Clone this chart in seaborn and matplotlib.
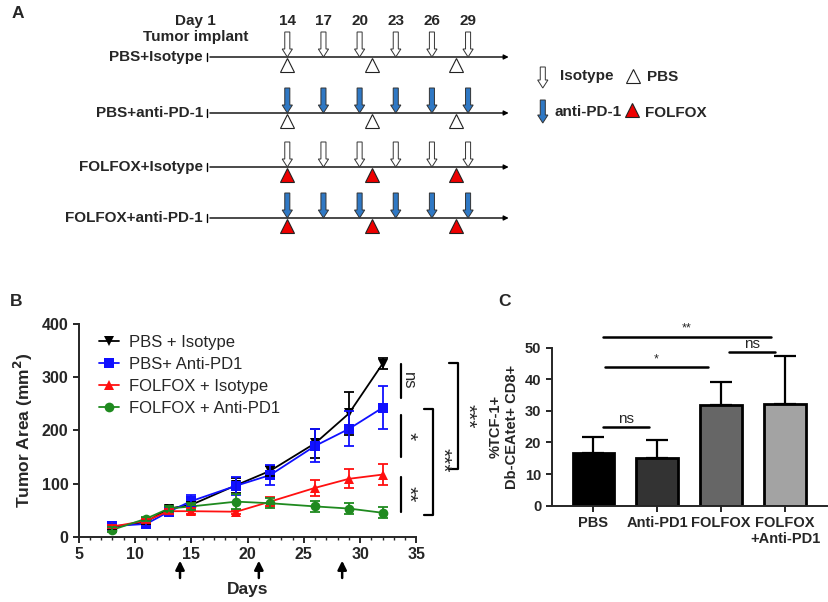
import numpy as np
import pandas as pd
import matplotlib
matplotlib.use("Agg")
import matplotlib.pyplot as plt
import seaborn as sns
from matplotlib.ticker import MultipleLocator

# ---------------------------
# Data
# ---------------------------
# panel A - treatment schedule
schedule_groups = ["PBS+Isotype", "PBS+anti-PD-1", "FOLFOX+Isotype", "FOLFOX+anti-PD-1"]
antibody_days = [14, 17, 20, 23, 26, 29]
chemo_days = [14, 21, 28]
group_antibody = ["Isotype", "anti-PD-1", "Isotype", "anti-PD-1"]
group_chemo = ["PBS", "PBS", "FOLFOX", "FOLFOX"]

# panel B - tumor growth (mean +/- sem)
days = [8, 11, 13, 15, 19, 22, 26, 29, 32]
growth_groups = ["PBS + Isotype", "PBS+ Anti-PD1", "FOLFOX + Isotype", "FOLFOX + Anti-PD1"]
pbs_iso_mean = [18, 28, 53, 60, 97, 124, 176, 232, 326]
pbs_iso_sem = [4, 4, 5, 5, 14, 10, 27, 40, 11]
pbs_pd1_mean = [20, 24, 47, 67, 96, 116, 171, 203, 243]
pbs_pd1_sem = [4, 4, 6, 12, 17, 19, 31, 33, 41]
fol_iso_mean = [19, 30, 48, 48, 47, 66, 92, 109, 117]
fol_iso_sem = [3, 4, 5, 6, 4, 9, 15, 18, 20]
fol_pd1_mean = [13, 34, 53, 57, 66, 63, 57, 53, 45]
fol_pd1_sem = [5, 4, 5, 6, 14, 9, 10, 11, 10]
dosing_days = [14, 21, 28.4]

# panel C - TCF-1+ tetramer+ CD8
bar_groups = ["PBS", "Anti-PD1", "FOLFOX", "FOLFOX\n+Anti-PD1"]
bar_values = [16.8, 15.2, 32.0, 32.2]
bar_errors = [4.8, 5.5, 7.2, 15.2]

# ---------------------------
# Style
# ---------------------------
sns.set_style("ticks")
plt.rcParams["font.family"] = ["Liberation Sans", "DejaVu Sans"]
plt.rcParams["axes.linewidth"] = 1.4

fig = plt.figure(figsize=(8.29, 6.02), dpi=100)

# ---------------------------
# Panel A - schematic
# ---------------------------
axA = fig.add_axes([0, 1 - 240 / 602, 1, 240 / 602])
axA.set_xlim(-9.84, 58.95)
axA.set_ylim(240, 0)
axA.axis("off")

row_y = [57, 113, 167, 218]
line_start, line_end = 7.35, 32.6
blue = "#2f78c4"

axA.text(6.4, 21, "Day 1", ha="center", va="center", fontsize=11, fontweight="bold")
axA.text(6.4, 37, "Tumor implant", ha="center", va="center", fontsize=11, fontweight="bold")
for d in antibody_days:
    axA.text(d, 21, str(d), ha="center", va="center", fontsize=11, fontweight="bold")


def block_arrow(x, y_tip, fc, length=25):
    axA.arrow(x, y_tip - length, 0, length, width=0.42, head_width=0.85, head_length=8,
              length_includes_head=True, fc=fc, ec="#333333", lw=0.7, zorder=3)


for y, name, ab, chemo in zip(row_y, schedule_groups, group_antibody, group_chemo):
    axA.annotate("", xy=(line_end, y), xytext=(line_start, y),
                 arrowprops=dict(arrowstyle="-|>", color="black", lw=1.0, mutation_scale=7))
    axA.plot([line_start, line_start], [y - 4, y + 4], color="black", lw=1.0)
    axA.text(line_start - 0.35, y, name, ha="right", va="center", fontsize=11, fontweight="bold")
    fc = "white" if ab == "Isotype" else blue
    for d in antibody_days:
        block_arrow(d, y, fc)
    tri_fc = "white" if chemo == "PBS" else "#ee0000"
    axA.plot(chemo_days, [y + 8] * len(chemo_days), ls="none", marker="^", ms=10,
             mfc=tri_fc, mec="#222222", mew=0.8, zorder=4)

# legend for schematic
block_arrow(35.2, 88, "white", length=21)
axA.text(36.6, 76, "Isotype", ha="left", va="center", fontsize=11, fontweight="bold")
axA.plot([42.7], [76], ls="none", marker="^", ms=10, mfc="white", mec="#222222", mew=0.8)
axA.text(43.85, 77, "PBS", ha="left", va="center", fontsize=11, fontweight="bold")
block_arrow(35.2, 123, blue, length=23)
axA.text(36.2, 112, "anti-PD-1", ha="left", va="center", fontsize=11, fontweight="bold")
axA.plot([42.6], [110], ls="none", marker="^", ms=10, mfc="#ee0000", mec="#222222", mew=0.8)
axA.text(43.7, 113, "FOLFOX", ha="left", va="center", fontsize=11, fontweight="bold")

# ---------------------------
# Panel B - tumor growth
# ---------------------------
axB = fig.add_axes([0.0949, 0.1085, 0.4075, 0.3528])
means = [pbs_iso_mean, pbs_pd1_mean, fol_iso_mean, fol_pd1_mean]
sems = [pbs_iso_sem, pbs_pd1_sem, fol_iso_sem, fol_pd1_sem]
colors = ["black", "#1010ff", "#ff1010", "#1f8a1f"]
markers = ["v", "s", "^", "o"]

df = pd.DataFrame({
    "day": days * 4,
    "area": sum(means, []),
    "group": np.repeat(growth_groups, len(days)),
})
sns.lineplot(data=df, x="day", y="area", hue="group", style="group",
             hue_order=growth_groups, style_order=growth_groups,
             palette=dict(zip(growth_groups, colors)),
             markers=dict(zip(growth_groups, markers)), dashes=False,
             markersize=7, linewidth=1.3, markeredgewidth=0, ax=axB)
for m, s, c in zip(means, sems, colors):
    axB.errorbar(days, m, yerr=s, fmt="none", ecolor=c, elinewidth=1.3,
                 capsize=3.6, capthick=1.3)

handles, labels = axB.get_legend_handles_labels()
keep = [(h, l) for h, l in zip(handles, labels) if l in growth_groups]
axB.legend([h for h, _ in keep], [l for _, l in keep], loc="upper left",
           bbox_to_anchor=(0.035, 0.99), frameon=False, fontsize=12, borderpad=0,
           handlelength=1.2, handletextpad=0.6, labelspacing=0.42)

axB.set_xlim(5, 35)
axB.set_ylim(0, 400)
axB.set_xticks(range(5, 36, 5))
axB.set_yticks(range(0, 401, 100))
axB.xaxis.set_minor_locator(MultipleLocator(1))
axB.tick_params(axis="both", which="major", length=4, width=1.4, labelsize=11.5)
axB.tick_params(axis="x", which="minor", length=2.5, width=1.0)
for lab in axB.get_xticklabels() + axB.get_yticklabels():
    lab.set_fontweight("bold")
axB.set_xlabel("Days", fontsize=12.5, fontweight="bold", labelpad=14)
axB.set_ylabel("Tumor Area (mm$^\\mathbf{2}$)", fontsize=12.5, fontweight="bold", labelpad=5)
sns.despine(ax=axB)

for d in dosing_days:
    axB.annotate("", xy=(d, -40), xytext=(d, -83), annotation_clip=False,
                 arrowprops=dict(arrowstyle="-|>", color="black", lw=1.8, mutation_scale=13))

# significance lines
for (y0, y1, lab) in [(326, 261, "ns"), (229, 151, "*"), (113, 47, "**")]:
    axB.plot([33.62, 33.62], [y0, y1], color="black", lw=1.6, clip_on=False)
    axB.text(34.3, (y0 + y1) / 2, lab, rotation=-90, ha="center", va="center",
             fontsize=12 if lab == "ns" else 15, clip_on=False)
for (x, y0, y1, tx, ty) in [(38.71, 328, 127, 39.5, 226), (36.49, 241, 41, 37.3, 144)]:
    axB.plot([x - 0.8, x, x, x - 0.8], [y0, y0, y1, y1], color="black", lw=1.6, clip_on=False)
    axB.text(tx, ty, "***", rotation=-90, ha="center", va="center", fontsize=15, clip_on=False)

# ---------------------------
# Panel C - bar chart
# ---------------------------
axC = fig.add_axes([0.6655, 0.16, 0.3317, 0.2624])
bar_colors = ["#000000", "#333333", "#666666", "#a3a3a3"]
sns.barplot(x=bar_groups, y=bar_values, hue=bar_groups, palette=bar_colors, legend=False,
            edgecolor="black", linewidth=2, width=0.65, ax=axC)
axC.errorbar(range(len(bar_groups)), bar_values, yerr=[[0] * len(bar_errors), bar_errors],
             fmt="none", ecolor="black", elinewidth=1.6, capsize=7.8, capthick=1.6, zorder=1)
axC.set_xlim(-0.651, 3.652)
axC.set_ylim(0, 50)
axC.set_yticks(range(0, 51, 10))
axC.tick_params(axis="both", length=4, width=1.4, labelsize=10.5)
for lab in axC.get_xticklabels() + axC.get_yticklabels():
    lab.set_fontweight("bold")
axC.set_ylabel("%TCF-1+\nDb-CEAtet+ CD8+", fontsize=10.5, fontweight="bold", labelpad=4)
sns.despine(ax=axC)

for (x0, x1, y, lab, fs, dy) in [(0.156, 0.876, 25.0, "ns", 11, 0.3),
                                 (0.183, 1.799, 43.8, "*", 9, 0.6),
                                 (2.124, 2.845, 48.7, "ns", 11, 0.3),
                                 (0.156, 2.776, 53.5, "**", 9, 0.6)]:
    axC.plot([x0, x1], [y, y], color="black", lw=1.8, clip_on=False)
    axC.text((x0 + x1) / 2, y + dy, lab, ha="center", va="bottom", fontsize=fs, clip_on=False)

# panel letters
fig.text(12 / 829, 1 - 13 / 602, "A", fontsize=12.5, fontweight="bold", ha="left", va="center")
fig.text(10 / 829, 1 - 302 / 602, "B", fontsize=12.5, fontweight="bold", ha="left", va="center")
fig.text(498 / 829, 1 - 302 / 602, "C", fontsize=12.5, fontweight="bold", ha="left", va="center")

fig.savefig("out.png", dpi=100)
